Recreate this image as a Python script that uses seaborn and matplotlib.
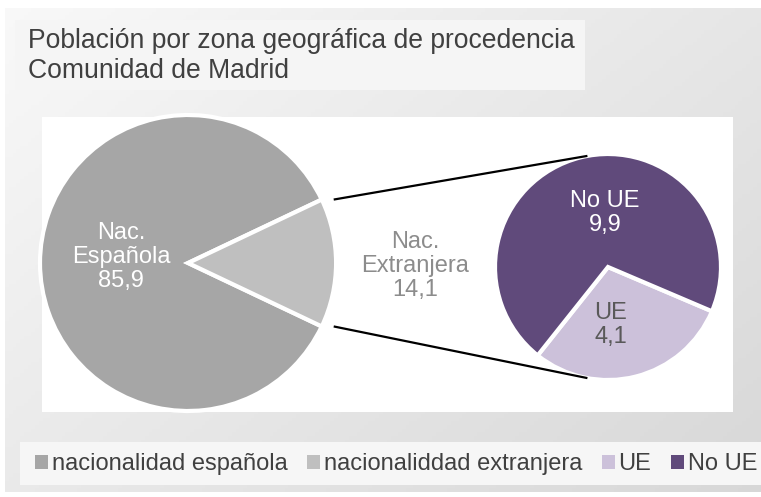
import numpy as np
import matplotlib
matplotlib.use('Agg')
import matplotlib.pyplot as plt
import seaborn as sns
from matplotlib.patches import Rectangle, Patch

# Data
main_labels = ['nacionalidad española', 'nacionaliddad extranjera']
main_short = ['Nac.\nEspañola', 'Nac.\nExtranjera']
main_values = [85.9, 14.1]
sub_labels = ['UE', 'No UE']
sub_values = [4.1, 9.9]

title = 'Población por zona geográfica de procedencia\nComunidad de Madrid'

sns.set_theme(style='white')
plt.rcParams['font.family'] = ['Liberation Sans', 'DejaVu Sans']

main_colors = ['#a6a6a6', '#bfbfbf']
sub_colors = ['#ccc1da', '#604a7b']

W, H = 761, 497
fig = plt.figure(figsize=(W / 100, H / 100), dpi=100)
ax = fig.add_axes([0, 0, 1, 1])


def Y(y):
    # image y (from top) -> data y (from bottom)
    return H - y


# background gradient
nx, ny = 200, 130
xn = np.linspace(0, 1, nx)[None, :]
yn = np.linspace(0, 1, ny)[:, None]
shade = 0.975 - 0.13 * (0.55 * xn + 0.45 * yn)
img = np.dstack([shade, shade, shade])
ax.imshow(img, extent=[5, W, Y(492), Y(8)], aspect='auto', zorder=0, origin='upper')

# title box + plot area + legend box
ax.add_patch(Rectangle((15, Y(90)), 570, 70, facecolor='#f5f5f5', edgecolor='none', zorder=1))
ax.add_patch(Rectangle((42, Y(412)), 691, 295, facecolor='white', edgecolor='none', zorder=1))
ax.add_patch(Rectangle((20, Y(485)), 741, 43, facecolor='#f6f6f6', edgecolor='none', zorder=1))

ax.text(28, Y(56), title, fontsize=19.1, color='#404040', ha='left', va='center',
        linespacing=1.25, zorder=5)

# main pie
c1 = (188, Y(263))
r1 = 148
frac_ext = main_values[1] / sum(main_values)
start1 = 180 * frac_ext  # centre the foreign slice on 0 deg
explode1 = [0, 0.081]
w1, _ = ax.pie(main_values, colors=main_colors, center=c1, radius=r1,
               startangle=start1, explode=explode1, frame=True,
               wedgeprops=dict(edgecolor='white', linewidth=3))
for w in w1:
    w.set_zorder(3)

# secondary pie
c2 = (608, Y(267))
r2 = 113
start2 = -128.5
w2, _ = ax.pie(sub_values, colors=sub_colors, center=c2, radius=r2,
               startangle=start2, explode=[0.03, 0], frame=True,
               wedgeprops=dict(edgecolor='white', linewidth=3))
for w in w2:
    w.set_zorder(3)

# connector lines
half = np.deg2rad(180 * frac_ext)
tip = (c1[0] + explode1[1] * r1, c1[1])
for sgn in (1, -1):
    p0 = (tip[0] + r1 * np.cos(half), tip[1] + sgn * r1 * np.sin(half))
    a = np.deg2rad(sgn * 100.5)
    p1 = (c2[0] + r2 * np.cos(a), c2[1] + r2 * np.sin(a))
    ax.plot([p0[0], p1[0]], [p0[1], p1[1]], color='black', lw=1.6, zorder=4,
            solid_capstyle='butt')


def fmt(v):
    return f'{v:.1f}'.replace('.', ',')


lab_fs = 17
ax.text(121, Y(257), f'{main_short[0]}\n{fmt(main_values[0])}',
        ha='center', va='center', fontsize=lab_fs, color='white', zorder=5, linespacing=1.13)
ax.text(415, Y(266), f'{main_short[1]}\n{fmt(main_values[1])}',
        ha='center', va='center', fontsize=lab_fs, color='#8c8c8c', zorder=5, linespacing=1.13)
ax.text(605, Y(213), f'{sub_labels[1]}\n{fmt(sub_values[1])}',
        ha='center', va='center', fontsize=lab_fs, color='white', zorder=5, linespacing=1.13)
ax.text(611, Y(325), f'{sub_labels[0]}\n{fmt(sub_values[0])}',
        ha='center', va='center', fontsize=lab_fs, color='#595959', zorder=5, linespacing=1.13)

# legend
handles = [Patch(facecolor=c, edgecolor='none', label=l)
           for c, l in zip(main_colors + sub_colors, main_labels + sub_labels)]
leg = ax.legend(handles=handles, ncol=4, frameon=False, fontsize=17,
                loc='center left', bbox_to_anchor=(35 / W, 1 - 464 / H),
                handlelength=0.55, handleheight=0.55, handletextpad=0.15,
                columnspacing=0.84, borderaxespad=0, borderpad=0, labelcolor='#404040')
leg.set_zorder(6)

ax.set_xlim(0, W)
ax.set_ylim(0, H)
ax.set_aspect('auto')
ax.axis('off')

fig.savefig('out.png', dpi=100, facecolor='white')
